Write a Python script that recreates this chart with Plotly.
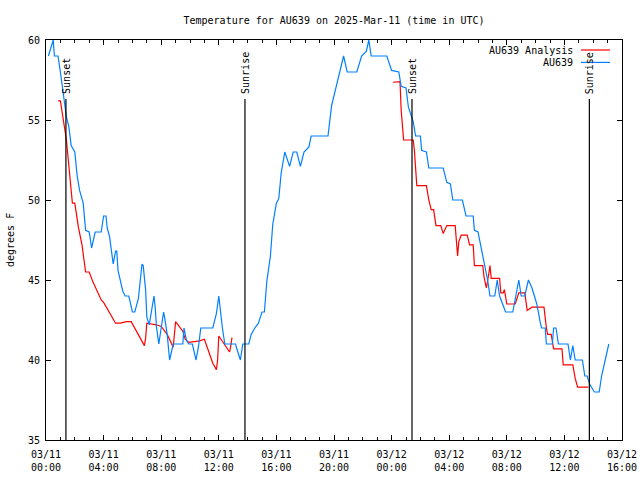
import pandas as pd
import plotly.graph_objects as go

# ---- data (minutes after 2025-03-11 00:00 UTC, degrees F) ----
obs_minutes = [10, 30, 35, 50, 60, 85, 95, 105, 120, 130, 140, 155, 165, 180, 190, 205, 230,
               240, 250, 255, 265, 280, 290, 295, 300, 310, 320, 330, 345, 360, 370, 385, 400,
               405, 415, 420, 430, 440, 450, 455, 460, 470, 480, 490, 495, 505, 515, 530, 570,
               575, 585, 595, 610, 625, 635, 645, 695, 710, 720, 725, 735, 745, 790, 795, 810,
               820, 845, 855, 870, 885, 900, 910, 920, 935, 945, 960, 970, 980, 995, 1015, 1030,
               1045, 1060, 1075, 1095, 1105, 1175, 1190, 1210, 1240, 1255, 1295, 1315, 1335,
               1345, 1355, 1420, 1440, 1470, 1480, 1500, 1510, 1530, 1540, 1560, 1565, 1585,
               1595, 1655, 1670, 1685, 1695, 1735, 1750, 1780, 1785, 1800, 1815, 1830, 1840,
               1850, 1870, 1880, 1890, 1915, 1945, 1970, 1980, 1995, 2010, 2025, 2045, 2060,
               2065, 2080, 2085, 2110, 2115, 2125, 2135, 2175, 2185, 2195, 2205, 2235, 2245,
               2255, 2265, 2285, 2305, 2315, 2345]
obs_temp = [59, 60, 59, 59, 58, 55.2, 54.6, 53.4, 53, 51.5, 50.6, 49.8, 48.1, 48, 47, 48, 48,
            49, 49, 48.25, 47.7, 46, 46.8, 46.8, 45.6, 45, 44.3, 44, 44, 43, 43, 43.85, 46,
            45.9, 44.4, 42.7, 42.2, 43.1, 44, 43.3, 42.1, 41, 42.1, 43, 42.6, 41.6, 40, 41, 41,
            42, 41.25, 41, 41, 40, 40.8, 42, 42, 42.9, 44, 43.3, 42, 41, 41, 40.7, 40,
            41, 41, 41.6, 42, 42.3, 43, 43, 44.9, 46.5, 48.5, 49.8, 50.1, 51.7, 53, 52.1, 53,
            53, 52.1, 53, 53.3, 54, 54, 55.9, 57.2, 59, 58, 58, 59, 59.3,
            60, 59, 59, 58.1, 58, 57.1, 57, 55.8, 54.9, 54, 54, 53.1, 53,
            52, 52, 51.1, 51, 50, 50, 49, 49, 48.1, 48, 46.9, 45.8, 45,
            44, 44, 45, 44, 43, 43, 45, 44, 44, 45, 44.5, 43.5, 42.3,
            42, 42, 41, 41, 42, 42, 41, 41, 40, 40.9, 40, 40, 39,
            39, 38.5, 38, 38, 39, 41]

ana_minutes_1 = [50, 60, 85, 95, 105, 110, 120, 135, 150, 165, 180, 195, 230, 240, 290, 310,
                 335, 355, 410, 415, 420, 460, 480, 505, 530, 535, 540, 570, 580, 595, 640,
                 660, 685, 695, 710, 715, 720, 740, 765, 770, 775]
ana_temp_1 = [56.2, 56.2, 53.75, 52.1, 50.4, 49.8, 49.8, 48.3, 47.2, 45.5, 45.5, 44.9, 43.75,
              43.6, 42.3, 42.3, 42.4, 42.4, 40.9, 41.35, 42.3, 42.2, 42.1, 41.6, 40.8, 41.67,
              42.4, 41.8, 41.3, 41.1, 41.2, 41.3, 40.3, 39.8, 39.4, 40, 41.5, 41.04, 40.5,
              40.9, 41.4]
ana_minutes_2 = [1445, 1475, 1480, 1490, 1530, 1535, 1545, 1585, 1595, 1605, 1615, 1625, 1645,
                 1655, 1670, 1705, 1715, 1720, 1730, 1755, 1765, 1780, 1785, 1820, 1825, 1835,
                 1845, 1850, 1855, 1890, 1895, 1905, 1910, 1920, 1955, 1970, 1995, 2005, 2025,
                 2075, 2085, 2090, 2105, 2115, 2150, 2155, 2195, 2205, 2215, 2260]
ana_temp_2 = [57.36, 57.4, 55.6, 53.75, 53.75, 53.1, 50.9, 50.9, 50, 49.4, 49.4, 48.4, 48.4,
              47.9, 48.4, 48.4, 46.5, 47.4, 47.8, 47.8, 47.2, 47.2, 45.9, 45.9, 45.2, 44.5,
              45.4, 45.9, 45.1, 45.1, 44.2, 44.2, 44.4, 43.5, 43.5, 44.2, 44.2, 43.1, 43.3,
              43.3, 42, 41.6, 41.6, 40.7, 40.7, 39.7, 39.7, 38.85, 38.3, 38.3]

sun_event_minutes = [83, 829, 1525, 2264]
sun_event_labels = ["Sunset", "Sunrise", "Sunset", "Sunrise"]

series_names = ["AU639 Analysis", "AU639"]
series_colors = ["#ff0000", "#0080ff"]

# ---- build ----
base = pd.Timestamp("2025-03-11 00:00")
to_time = lambda mins: [base + pd.Timedelta(minutes=m) for m in mins]

ana_x = to_time(ana_minutes_1) + [None] + to_time(ana_minutes_2)
ana_y = ana_temp_1 + [None] + ana_temp_2

FONT = "DejaVu Sans Mono"
W, H = 640, 480
fig = go.Figure()
fig.add_trace(go.Scatter(x=ana_x, y=ana_y, mode="lines", name=series_names[0],
                         line=dict(color=series_colors[0], width=1.2), connectgaps=False))
fig.add_trace(go.Scatter(x=to_time(obs_minutes), y=obs_temp, mode="lines", name=series_names[1],
                         line=dict(color=series_colors[1], width=1.2)))

# sun event lines + rotated labels
for m, lab in zip(sun_event_minutes, sun_event_labels):
    t = base + pd.Timedelta(minutes=m)
    fig.add_shape(type="line", xref="x", yref="paper", x0=t, x1=t, y0=0, y1=0.8525,
                  line=dict(color="black", width=1.2))
    fig.add_annotation(x=t, y=0.86, xref="x", yref="paper", text=lab, textangle=-90,
                       showarrow=False, xanchor="center", yanchor="bottom",
                       font=dict(family=FONT, size=10, color="black"))

# legend (gnuplot style: text right-aligned, sample on the right)
leg_y = [0.975, 0.944]
for name, col, yy in zip(series_names, series_colors, leg_y):
    fig.add_annotation(x=0.918, y=yy, xref="paper", yref="paper", text=name, showarrow=False,
                       xanchor="right", yanchor="middle", font=dict(family=FONT, size=10, color="black"))
    fig.add_shape(type="line", xref="paper", yref="paper", x0=0.9288, x1=0.9792, y0=yy, y1=yy,
                  line=dict(color=col, width=1.2))

# y axis label
fig.add_annotation(x=-0.0625, y=0.5, xref="paper", yref="paper", text="degrees F", textangle=-90,
                   showarrow=False, xanchor="center", yanchor="middle",
                   font=dict(family=FONT, size=10, color="black"))

fig.update_layout(
    width=W, height=H,
    margin=dict(l=46, r=18, t=40, b=40, autoexpand=False),
    paper_bgcolor="white", plot_bgcolor="white",
    showlegend=False,
    font=dict(family=FONT, size=10, color="black"),
    title=dict(text="Temperature for AU639 on 2025-Mar-11 (time in UTC)", x=0.5, xref="paper",
               y=1 - 20 / H, yref="container", xanchor="center", yanchor="middle",
               font=dict(family=FONT, size=10, color="black")),
)
fig.update_xaxes(
    type="date",
    range=[base, base + pd.Timedelta(hours=40)],
    dtick=4 * 3600 * 1000, tick0=base,
    tickformat="%m/%d<br>%H:%M",
    ticks="inside", ticklen=5, tickcolor="black", ticklabelstandoff=5,
    minor=dict(ticks="inside", ticklen=3, dtick=3600 * 1000, tickcolor="black"),
    showline=True, linecolor="black", linewidth=1, mirror="ticks",
    showgrid=False, zeroline=False,
    tickfont=dict(family=FONT, size=10, color="black"),
)
fig.update_yaxes(
    range=[35, 60], dtick=5, tick0=35,
    ticks="inside", ticklen=5, tickcolor="black", ticklabelstandoff=3,
    showline=True, linecolor="black", linewidth=1, mirror="ticks",
    showgrid=False, zeroline=False,
    tickfont=dict(family=FONT, size=10, color="black"),
)

fig.write_html("out.html", config={"displayModeBar": False},
               post_script="document.body.style.margin='0';")
